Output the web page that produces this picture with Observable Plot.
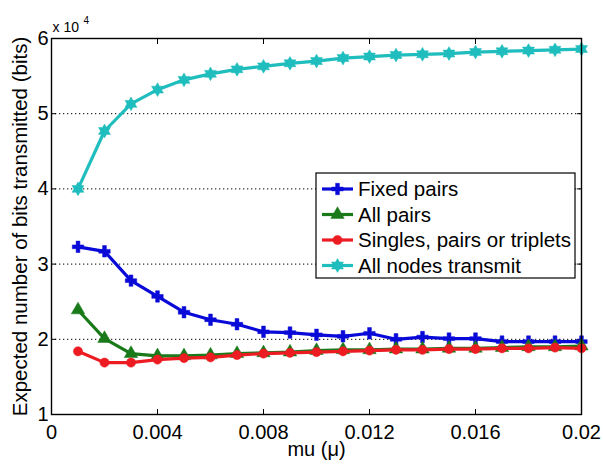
<!DOCTYPE html>
<html>
<head>
<meta charset="utf-8">
<script src="https://cdn.jsdelivr.net/npm/d3@7"></script>
<script src="https://cdn.jsdelivr.net/npm/@observablehq/plot@0.6"></script>
<style>
  html, body { margin: 0; padding: 0; background: #fff; }
  #chart { width: 603px; height: 466px; }
  svg { font-family: "Liberation Sans", Arial, Helvetica, sans-serif; }
</style>
</head>
<body>
<div id="chart"></div>
<script>
// ---- data (values in units of 10^4 bits) ----
const mu = [0.001, 0.002, 0.003, 0.004, 0.005, 0.006, 0.007, 0.008, 0.009, 0.010,
            0.011, 0.012, 0.013, 0.014, 0.015, 0.016, 0.017, 0.018, 0.019, 0.020];
const fixedPairs = [3.23, 3.17, 2.78, 2.57, 2.36, 2.26, 2.20, 2.10, 2.09, 2.06,
                    2.04, 2.08, 2.00, 2.03, 2.01, 2.01, 1.97, 1.97, 1.97, 1.97];
const allPairs   = [2.39, 2.01, 1.81, 1.78, 1.78, 1.79, 1.81, 1.82, 1.83, 1.85,
                    1.86, 1.86, 1.87, 1.87, 1.88, 1.88, 1.89, 1.90, 1.90, 1.91];
const singlesPairsTriplets = [1.84, 1.69, 1.69, 1.73, 1.75, 1.76, 1.79, 1.81, 1.82, 1.83,
                              1.84, 1.85, 1.86, 1.86, 1.87, 1.87, 1.88, 1.88, 1.89, 1.88];
const allNodesTransmit = [4.00, 4.77, 5.13, 5.32, 5.45, 5.53, 5.59, 5.63, 5.67, 5.70,
                          5.74, 5.76, 5.78, 5.79, 5.80, 5.82, 5.83, 5.84, 5.85, 5.86];

const seriesNames = ["Fixed pairs", "All pairs", "Singles, pairs or triplets", "All nodes transmit"];
const seriesValues = [fixedPairs, allPairs, singlesPairsTriplets, allNodesTransmit];
const seriesColors = ["#0a0ad8", "#1a7a1a", "#ec1c22", "#1fbdbd"];

const xTicks = [0, 0.004, 0.008, 0.012, 0.016, 0.02];
const xTickLabels = ["0", "0.004", "0.008", "0.012", "0.016", "0.02"];
const yTicks = [1, 2, 3, 4, 5, 6];
const yTickLabels = ["1", "2", "3", "4", "5", "6"];
const gridY = [2, 3, 4, 5];
const xLabel = "mu (\u03bc)";
const yLabel = "Expected number of bits transmitted (bits)";
const exponentBase = "x 10";
const exponentPower = "4";

// ---- symbols ----
const hexagram = {
  draw(ctx, size) {
    const R = Math.sqrt(size / Math.PI) * 1.3;
    const r = R / Math.sqrt(3);
    for (let k = 0; k < 12; k++) {
      const a = -Math.PI / 2 + k * Math.PI / 6;
      const rad = k % 2 ? r : R;
      const x = rad * Math.cos(a), y = rad * Math.sin(a);
      if (k) ctx.lineTo(x, y); else ctx.moveTo(x, y);
    }
    ctx.closePath();
  }
};
const seriesSymbols = [d3.symbolCross, d3.symbolTriangle, d3.symbolCircle, hexagram];
const seriesR = [4.8, 5, 4.6, 5.3];

const rows = seriesNames.map((name, s) =>
  mu.map((m, i) => ({mu: m, value: seriesValues[s][i], series: name})));

const xFmt = new Map(xTicks.map((t, i) => [t, xTickLabels[i]]));
const yFmt = new Map(yTicks.map((t, i) => [t, yTickLabels[i]]));

const marks = [
  Plot.ruleY(gridY, {stroke: "#000", strokeWidth: 1, strokeDasharray: "1.3,2.7"}),
  Plot.axisX({anchor: "bottom", ticks: xTicks, tickFormat: d => xFmt.get(d), tickSize: -5, tickPadding: 15, fontSize: 20, label: null}),
  Plot.axisX({anchor: "top", ticks: xTicks, fill: "none", tickSize: -5, label: null}),
  Plot.axisY({anchor: "left", ticks: yTicks, tickFormat: d => yFmt.get(d), tickSize: -5, tickPadding: 8, fontSize: 20, label: null}),
  Plot.axisY({anchor: "right", ticks: yTicks, fill: "none", tickSize: -5, label: null}),
];
rows.forEach((data, s) => {
  marks.push(Plot.line(data, {x: "mu", y: "value", stroke: seriesColors[s], strokeWidth: 3.2}));
  marks.push(Plot.dot(data, {x: "mu", y: "value", fill: seriesColors[s], stroke: seriesColors[s], strokeWidth: 0.5, symbol: seriesSymbols[s], r: seriesR[s]}));
});
marks.push(
  Plot.frame({stroke: "#000", strokeWidth: 1.4}),
  Plot.text([xLabel], {frameAnchor: "bottom", textAnchor: "middle", dy: 35, lineAnchor: "middle", fontSize: 20}),
  Plot.text([yLabel], {frameAnchor: "left", textAnchor: "middle", rotate: -90, dx: -31, lineAnchor: "middle", fontSize: 20.5}),
  Plot.text([exponentBase], {frameAnchor: "top-left", textAnchor: "start", lineAnchor: "middle", dx: 1, dy: -10.5, fontSize: 14}),
  Plot.text([exponentPower], {frameAnchor: "top-left", textAnchor: "start", lineAnchor: "middle", dx: 32, dy: -18, fontSize: 10})
);

const chart = Plot.plot({
  width: 603,
  height: 466,
  marginLeft: 51,
  marginRight: 22,
  marginTop: 38,
  marginBottom: 52,
  x: {domain: [0, 0.02]},
  y: {domain: [1, 6]},
  style: {background: "#fff", color: "#000", fontFamily: "'Liberation Sans', Arial, Helvetica, sans-serif", fontSize: "19px", overflow: "visible"},
  marks
});
document.getElementById("chart").appendChild(chart);

// ---- legend (inside the plot area) ----
const svg = d3.select(chart);
const lg = svg.append("g")
  .attr("font-family", "'Liberation Sans', Arial, Helvetica, sans-serif")
  .attr("font-size", 20.5)
  .attr("text-anchor", "start");
const box = {x: 316, y: 173, w: 259, h: 105};
lg.append("rect").attr("x", box.x).attr("y", box.y).attr("width", box.w).attr("height", box.h)
  .attr("fill", "#fff").attr("stroke", "#000").attr("stroke-width", 1.2);
seriesNames.forEach((name, i) => {
  const cy = box.y + 16 + i * 25.5;
  lg.append("line").attr("x1", box.x + 6).attr("x2", box.x + 37).attr("y1", cy).attr("y2", cy)
    .attr("stroke", seriesColors[i]).attr("stroke-width", 3.2);
  lg.append("path").attr("transform", `translate(${box.x + 21.5},${cy})`)
    .attr("d", d3.symbol(seriesSymbols[i], Math.PI * seriesR[i] * seriesR[i])())
    .attr("fill", seriesColors[i]).attr("stroke", seriesColors[i]).attr("stroke-width", 0.5);
  lg.append("text").attr("x", box.x + 42).attr("y", cy).attr("dy", "0.35em")
    .attr("text-anchor", "start").attr("fill", "#000").text(name);
});
</script>
</body>
</html>
